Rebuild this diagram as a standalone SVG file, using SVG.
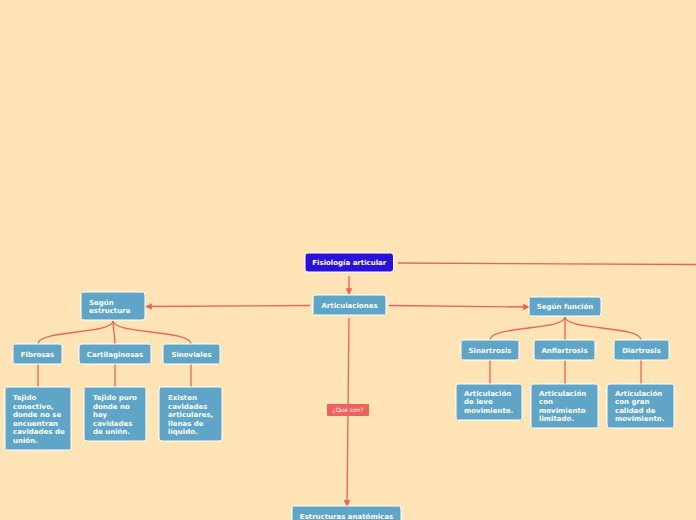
<svg xmlns="http://www.w3.org/2000/svg" width="696" height="520" viewBox="0 0 696 520">
<defs>
<style>
.bg{fill:#FFE5B5}
.n rect{fill:#5EA5C8;stroke:#FFFFFF;stroke-width:1}
.root rect{fill:#2A10DC;stroke:#FFFFFF;stroke-width:1}
.n text,.root text{font-family:"DejaVu Sans",Verdana,sans-serif;font-weight:bold;font-size:7px;fill:#FFFFFF}
.c{text-anchor:middle}
.e path,.e line{fill:none;stroke:#F0605C;stroke-width:1.3}
.lbl rect{fill:#F0605C}
.lbl text{font-family:"DejaVu Sans",Verdana,sans-serif;font-size:6px;fill:#FFFFFF;text-anchor:middle}
</style>
<marker id="ah" viewBox="0 0 10 10" refX="9" refY="5" markerWidth="5" markerHeight="5" orient="auto">
<path d="M0,0 L10,5 L0,10 z" fill="#F0605C"/>
</marker>
</defs>
<rect class="bg" x="0" y="0" width="696" height="520"/>
<g id="connectors" class="e">
<line x1="398" y1="263" x2="696" y2="264.5"/>
<line x1="349" y1="276" x2="349" y2="294" marker-end="url(#ah)"/>
<line x1="310" y1="305.5" x2="146" y2="306.5" marker-end="url(#ah)"/>
<line x1="389" y1="305.5" x2="529" y2="307" marker-end="url(#ah)"/>
<line x1="349" y1="318" x2="347" y2="506" marker-end="url(#ah)"/>
<path d="M113,321 C113,334 38,330 38,344"/>
<path d="M113,321 C113,330 115,334 115,344"/>
<path d="M113,321 C113,334 191,330 191,344"/>
<path d="M565,317 C565,330 490,326 490,340"/>
<path d="M565,317 L565,340"/>
<path d="M565,317 C565,330 641,326 641,340"/>
<line x1="38" y1="364" x2="38" y2="387"/>
<line x1="115" y1="364" x2="115" y2="387"/>
<line x1="191" y1="364" x2="191" y2="387"/>
<line x1="490" y1="360" x2="490" y2="384"/>
<line x1="565" y1="360" x2="565" y2="384"/>
<line x1="641" y1="360" x2="641" y2="384"/>
</g>
<g id="lbl-que-son" class="lbl">
<rect x="327" y="404" width="42" height="12" rx="1"/>
<text x="348" y="412.2">¿Qué son?</text>
</g>
<g id="fisiologia" class="root">
<rect x="305" y="253" width="88.5" height="19" rx="3"/>
<text class="c" x="349.3" y="264.8">Fisiología articular</text>
</g>
<g id="articulaciones" class="n">
<rect x="313" y="295" width="73" height="20" rx="3"/>
<text class="c" x="349.5" y="307.5">Articulaciones</text>
</g>
<g id="segun-estructura" class="n">
<rect x="81" y="292" width="64" height="28" rx="3"/>
<text x="89" y="304.5">Según</text>
<text x="89" y="313">estructura</text>
</g>
<g id="segun-funcion" class="n">
<rect x="529" y="297" width="72" height="19" rx="3"/>
<text class="c" x="565" y="309">Según función</text>
</g>
<g id="fibrosas" class="n">
<rect x="13" y="344" width="49" height="20" rx="3"/>
<text class="c" x="37.5" y="356.5">Fibrosas</text>
</g>
<g id="cartilaginosas" class="n">
<rect x="79" y="344" width="72" height="20" rx="3"/>
<text class="c" x="115" y="356.5">Cartilaginosas</text>
</g>
<g id="sinoviales" class="n">
<rect x="163" y="344" width="57" height="20" rx="3"/>
<text class="c" x="191.5" y="356.5">Sinoviales</text>
</g>
<g id="tejido-conectivo" class="n">
<rect x="5" y="387" width="66" height="63" rx="3"/>
<text x="13" y="400">Tejido</text>
<text x="13" y="408.6">conectivo,</text>
<text x="13" y="417.2">donde no se</text>
<text x="13" y="425.8">encuentran</text>
<text x="13" y="434.4">cavidades de</text>
<text x="13" y="443">unión.</text>
</g>
<g id="tejido-puro" class="n">
<rect x="84" y="387" width="62" height="54" rx="3"/>
<text x="93" y="400">Tejido puro</text>
<text x="93" y="408.6">donde no</text>
<text x="93" y="417.2">hay</text>
<text x="93" y="425.8">cavidades</text>
<text x="93" y="434.4">de unión.</text>
</g>
<g id="existen" class="n">
<rect x="159" y="387" width="63" height="54" rx="3"/>
<text x="168" y="400">Existen</text>
<text x="168" y="408.6">cavidades</text>
<text x="168" y="417.2">articulares,</text>
<text x="168" y="425.8">llenas de</text>
<text x="168" y="434.4">líquido.</text>
</g>
<g id="sinartrosis" class="n">
<rect x="461" y="340" width="58" height="20" rx="3"/>
<text class="c" x="490" y="352.5">Sinartrosis</text>
</g>
<g id="anfiartrosis" class="n">
<rect x="534" y="340" width="61" height="20" rx="3"/>
<text class="c" x="564.5" y="352.5">Anfiartrosis</text>
</g>
<g id="diartrosis" class="n">
<rect x="614" y="340" width="55" height="20" rx="3"/>
<text class="c" x="641.5" y="352.5">Diartrosis</text>
</g>
<g id="leve" class="n">
<rect x="456" y="384" width="66" height="36" rx="3"/>
<text x="464" y="395.8">Articulación</text>
<text x="464" y="404.3">de leve</text>
<text x="464" y="412.8">movimiento.</text>
</g>
<g id="limitado" class="n">
<rect x="531" y="384" width="67" height="44" rx="3"/>
<text x="539" y="395.8">Articulación</text>
<text x="539" y="404.3">con</text>
<text x="539" y="412.8">movimiento</text>
<text x="539" y="421.3">limitado.</text>
</g>
<g id="gran-calidad" class="n">
<rect x="607" y="384" width="67" height="44" rx="3"/>
<text x="615" y="395.8">Articulación</text>
<text x="615" y="404.3">con gran</text>
<text x="615" y="412.8">calidad de</text>
<text x="615" y="421.3">movimiento.</text>
</g>
<g id="estructuras" class="n">
<rect x="292" y="506" width="109" height="24" rx="3"/>
<text class="c" x="346.5" y="519">Estructuras anatómicas</text>
</g>
</svg>
